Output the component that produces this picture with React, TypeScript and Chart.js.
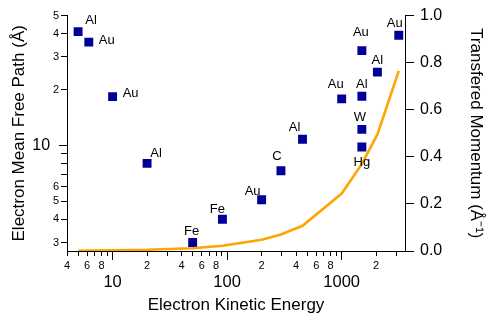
import React, { useEffect, useRef } from "react";
import { Chart, registerables } from "chart.js";

Chart.register(...registerables);

// Measured inelastic mean free paths
const ELEMENTS = ["Al", "Au", "Au", "Al", "Fe", "Fe", "Au", "C", "Al", "Au", "Au", "Al", "Al", "W", "Hg", "Au"];
const ENERGY_EV = [5, 6.2, 10, 20, 50, 91, 200, 295, 455, 1000, 1500, 2050, 1500, 1500, 1500, 3150];
const MEAN_FREE_PATH = [41, 36, 18.3, 8, 3, 4, 5.1, 7.3, 10.8, 17.8, 32.4, 24.8, 18.4, 12.2, 9.8, 39.2];

// Momentum transferred at each energy
const MOMENTUM_ENERGY_EV = [5, 6.2, 10, 20, 50, 91, 200, 295, 455, 1000, 1500, 2050, 3150];
const MOMENTUM = [0.001, 0.002, 0.003, 0.005, 0.012, 0.022, 0.048, 0.07, 0.107, 0.244, 0.37, 0.495, 0.765];

// Axis ticks
const X_TICK_VALUES = [4, 5, 6, 7, 8, 9, 10, 20, 30, 40, 50, 60, 70, 80, 90, 100, 200, 300, 400, 500, 600, 700, 800, 900, 1000, 2000, 3000];
const X_TICK_LABELS = ["4", "", "6", "", "8", "", "10", "2", "", "4", "", "6", "", "8", "", "100", "2", "", "4", "", "6", "", "8", "", "1000", "2", ""];
const X_MAJOR = [10, 100, 1000];
const Y_TICK_VALUES = [3, 4, 5, 6, 7, 8, 9, 10, 20, 30, 40, 50];
const Y_TICK_LABELS = ["3", "4", "5", "6", "", "", "", "10", "2", "3", "4", "5"];
const Y_MAJOR = [10];
const MOMENTUM_TICKS = [0, 0.2, 0.4, 0.6, 0.8, 1.0];

// Where each element name sits relative to its marker (dx, dy of the cap centre)
const LABEL_OFFSETS: [number, number][] = [
  [13, -12], [18, -3], [18, -4], [9, -11], [-1, -12], [-5, -11], [-9, -9], [-4, -15],
  [-8, -13], [-6, -15], [-1, -19], [0, -13], [0, -12.5], [-2, -13], [0, 14], [-4, -13],
];

const FONT = "'Liberation Sans', Arial, Helvetica, sans-serif";
const INK = "#000000";
const MARKER = "#000099";
const CURVE = "#FFA500";

const elementLabels = {
  id: "elementLabels",
  afterDatasetsDraw(chart: any) {
    const meta = chart.getDatasetMeta(1);
    const ctx = chart.ctx;
    ctx.save();
    ctx.font = `13px ${FONT}`;
    ctx.fillStyle = INK;
    ctx.textAlign = "center";
    ctx.textBaseline = "alphabetic";
    meta.data.forEach((pt: any, i: number) => {
      const [dx, dy] = LABEL_OFFSETS[i];
      ctx.fillText(ELEMENTS[i], pt.x + dx, pt.y + dy + 4.6);
    });
    ctx.restore();
  },
};

const majorTicks = {
  id: "majorTicks",
  afterDraw(chart: any) {
    const ctx = chart.ctx;
    const xs = chart.scales.x;
    const ys = chart.scales.y;
    ctx.save();
    ctx.strokeStyle = INK;
    ctx.lineWidth = 1;
    ctx.beginPath();
    X_MAJOR.forEach((v) => {
      const px = Math.round(xs.getPixelForValue(v) - 0.5) + 0.5;
      ctx.moveTo(px, xs.top);
      ctx.lineTo(px, xs.top + 9);
    });
    Y_MAJOR.forEach((v) => {
      const py = Math.round(ys.getPixelForValue(v) - 0.5) + 0.5;
      ctx.moveTo(ys.right, py);
      ctx.lineTo(ys.right - 8, py);
    });
    ctx.stroke();
    ctx.restore();
  },
};

export default function App() {
  const canvasRef = useRef<HTMLCanvasElement | null>(null);

  useEffect(() => {
    const canvas = canvasRef.current;
    if (!canvas) return;

    const chart = new Chart(canvas, {
      type: "scatter",
      data: {
        datasets: [
          {
            label: "Transfered Momentum",
            data: MOMENTUM_ENERGY_EV.map((e, i) => ({ x: e, y: MOMENTUM[i] })),
            yAxisID: "y2",
            showLine: true,
            tension: 0,
            borderColor: CURVE,
            backgroundColor: CURVE,
            borderWidth: 2.6,
            pointRadius: 0,
            pointHoverRadius: 0,
          },
          {
            label: "Electron Mean Free Path",
            data: ENERGY_EV.map((e, i) => ({ x: e, y: MEAN_FREE_PATH[i] })),
            yAxisID: "y",
            pointStyle: "rect",
            pointRadius: 6.3,
            pointHoverRadius: 6.3,
            pointBorderWidth: 0,
            borderWidth: 0,
            backgroundColor: MARKER,
            borderColor: MARKER,
          },
        ],
      },
      options: {
        responsive: false,
        animation: false,
        devicePixelRatio: 1,
        layout: { padding: { top: 11, left: 0, right: 0, bottom: 0 } },
        plugins: { legend: { display: false }, tooltip: { enabled: false } },
        events: [],
        scales: {
          x: {
            type: "logarithmic",
            position: "bottom",
            min: 4,
            max: 3570,
            afterBuildTicks: (scale: any) => {
              scale.ticks = X_TICK_VALUES.map((v) => ({ value: v, major: X_MAJOR.includes(v) }));
            },
            afterFit: (scale: any) => {
              scale.height = 69;
            },
            grid: { display: true, drawOnChartArea: false, drawTicks: true, tickLength: 5, color: INK },
            border: { display: true, color: INK, width: 1 },
            ticks: {
              autoSkip: false,
              maxRotation: 0,
              minRotation: 0,
              padding: 3,
              color: INK,
              font: (c: any) =>
                c.tick && c.tick.major
                  ? { family: FONT, size: 16.5, lineHeight: 0.96 }
                  : { family: FONT, size: 11, lineHeight: 1.2 },
              callback: (_v: any, i: number) =>
                X_MAJOR.includes(X_TICK_VALUES[i]) ? ["", X_TICK_LABELS[i]] : X_TICK_LABELS[i],
            },
            title: {
              display: true,
              text: "Electron Kinetic Energy",
              color: INK,
              font: { family: FONT, size: 17, lineHeight: 1.2 },
              padding: { top: 0, bottom: 4.6 },
            },
          },
          y: {
            type: "logarithmic",
            position: "left",
            min: 2.7,
            max: 50,
            afterBuildTicks: (scale: any) => {
              scale.ticks = Y_TICK_VALUES.map((v) => ({ value: v, major: Y_MAJOR.includes(v) }));
            },
            afterFit: (scale: any) => {
              scale.width = 67;
            },
            grid: { display: true, drawOnChartArea: false, drawTicks: true, tickLength: 6, color: INK },
            border: { display: true, color: INK, width: 1 },
            ticks: {
              autoSkip: false,
              padding: 2,
              color: INK,
              font: (c: any) =>
                c.tick && c.tick.major ? { family: FONT, size: 16 } : { family: FONT, size: 11 },
              callback: (_v: any, i: number) =>
                Y_MAJOR.includes(Y_TICK_VALUES[i]) ? Y_TICK_LABELS[i] + "  " : Y_TICK_LABELS[i],
            },
            title: {
              display: true,
              text: "Electron Mean Free Path (Å)",
              color: INK,
              font: { family: FONT, size: 17, lineHeight: 1.2 },
              padding: { top: 8.8, bottom: 0 },
            },
          },
          y2: {
            type: "linear",
            position: "right",
            min: 0,
            max: 1.0,
            afterBuildTicks: (scale: any) => {
              scale.ticks = MOMENTUM_TICKS.map((v) => ({ value: v }));
            },
            afterFit: (scale: any) => {
              scale.width = 83;
            },
            grid: { display: true, drawOnChartArea: false, drawTicks: true, tickLength: 9, color: INK },
            border: { display: true, color: INK, width: 1 },
            ticks: {
              autoSkip: false,
              padding: 6,
              color: INK,
              font: { family: FONT, size: 16 },
              callback: (v: any) => Number(v).toFixed(1),
            },
            title: {
              display: true,
              text: "Transfered Momentum (Å⁻¹)",
              color: INK,
              font: { family: FONT, size: 17, lineHeight: 1.2 },
              padding: { top: 2.6, bottom: 0 },
            },
          },
        },
      },
      plugins: [elementLabels, majorTicks],
    });

    return () => chart.destroy();
  }, []);

  return (
    <div style={{ position: "absolute", left: 0, top: 0, width: 488, height: 320, background: "#ffffff" }}>
      <canvas ref={canvasRef} width={488} height={320} style={{ display: "block", width: 488, height: 320 }} />
    </div>
  );
}
